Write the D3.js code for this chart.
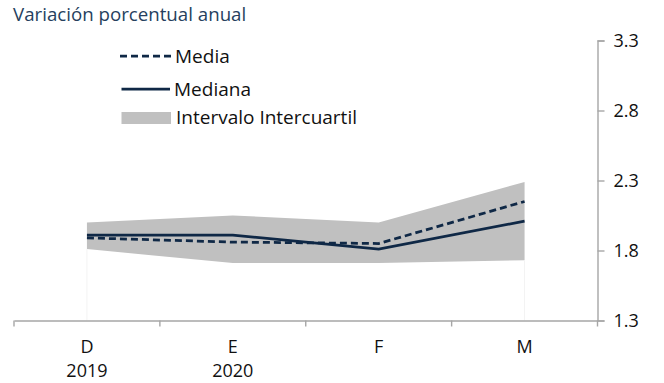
<!DOCTYPE html>
<html>
<head>
<meta charset="utf-8">
<script src="https://cdn.jsdelivr.net/npm/d3@7"></script>
<style>
  html, body { margin: 0; padding: 0; background: #fff; }
  svg { display: block; }
  text { font-family: "Open Sans", Lato, sans-serif; }
</style>
</head>
<body>
<svg id="chart" width="664" height="383"></svg>
<script>
const categories = ["D", "E", "F", "M"];
const years = ["2019", "2020", "", ""];
const media = [1.89, 1.86, 1.85, 2.15];
const mediana = [1.91, 1.91, 1.81, 2.01];
const q1 = [1.81, 1.71, 1.71, 1.73];
const q3 = [2.00, 2.05, 2.00, 2.29];
const yTicks = [1.3, 1.8, 2.3, 2.8, 3.3];

(function () {
const svg = d3.select("#chart");
const mLeft = 14, mRight = 597.5, mTop = 40.5, mBottom = 320.5;
const navy = "#0f2846";
const axisGray = "#a6a6a6";

const x = d3.scaleBand().domain(categories).range([mLeft, mRight]).paddingInner(0).paddingOuter(0);
const y = d3.scaleLinear().domain([1.3, 3.3]).range([mBottom, mTop]);
const cx = c => x(c) + x.bandwidth() / 2;

const data = categories.map((c, i) => ({ c, media: media[i], mediana: mediana[i], q1: q1[i], q3: q3[i] }));

// Interquartile band
const area = d3.area().x(d => cx(d.c)).y0(d => y(d.q1)).y1(d => y(d.q3));
svg.append("path").datum(data).attr("d", area).attr("fill", "#c0c0c0");

// faint drop lines at first and last
[data[0], data[data.length - 1]].forEach(d => {
  svg.append("line").attr("x1", cx(d.c)).attr("x2", cx(d.c))
    .attr("y1", y(d.q1)).attr("y2", mBottom)
    .attr("stroke", "#f3f3f3").attr("stroke-width", 1);
});

// Lines
const lineMed = d3.line().x(d => cx(d.c)).y(d => y(d.mediana));
const lineMean = d3.line().x(d => cx(d.c)).y(d => y(d.media));
svg.append("path").datum(data).attr("d", lineMed).attr("fill", "none")
  .attr("stroke", navy).attr("stroke-width", 2.75);
svg.append("path").datum(data).attr("d", lineMean).attr("fill", "none")
  .attr("stroke", navy).attr("stroke-width", 2.75).attr("stroke-dasharray", "7,4");

// X axis
const xAxis = d3.axisBottom(x).tickSize(0).tickFormat(() => "");
const gx = svg.append("g").attr("transform", `translate(0,${mBottom})`).call(xAxis);
gx.select(".domain").attr("stroke", axisGray).attr("stroke-width", 1.4);
const tickPos = categories.map(c => x(c)).concat([mRight]);
gx.selectAll("line.sep").data(tickPos).enter().append("line").attr("class", "sep")
  .attr("x1", d => d).attr("x2", d => d).attr("y1", 0).attr("y2", 6)
  .attr("stroke", axisGray).attr("stroke-width", 1.4);

svg.selectAll("text.cat").data(categories).enter().append("text").attr("class", "cat")
  .attr("x", d => cx(d)).attr("y", 353).attr("text-anchor", "middle")
  .attr("font-size", 18).attr("fill", "#111").text(d => d);
svg.selectAll("text.yr").data(categories).enter().append("text").attr("class", "yr")
  .attr("x", d => cx(d)).attr("y", 377).attr("text-anchor", "middle")
  .attr("font-size", 18).attr("fill", "#111").text((d, i) => years[i]);

// Y axis (right)
const yAxis = d3.axisRight(y).tickValues(yTicks).tickSize(7).tickPadding(9).tickFormat(d3.format(".1f"));
const gy = svg.append("g").attr("transform", `translate(${mRight},0)`).call(yAxis);
gy.select(".domain").attr("stroke", axisGray).attr("stroke-width", 1.4);
gy.selectAll(".tick line").attr("stroke", axisGray).attr("stroke-width", 1.4);
gy.selectAll(".tick text").attr("font-size", 18).attr("fill", "#111").attr("font-family", "'Open Sans', sans-serif");

// Title
svg.append("text").attr("x", 13).attr("y", 21).attr("font-size", 18.7)
  .attr("fill", "#263f5e").text("Variación porcentual anual");

// Legend
const lg = svg.append("g");
lg.append("line").attr("x1", 120).attr("x2", 172).attr("y1", 56).attr("y2", 56)
  .attr("stroke", navy).attr("stroke-width", 2.75).attr("stroke-dasharray", "7,4");
lg.append("text").attr("x", 175).attr("y", 63).attr("font-size", 19).attr("fill", "#111").text("Media");
lg.append("line").attr("x1", 121.5).attr("x2", 170).attr("y1", 89).attr("y2", 89)
  .attr("stroke", navy).attr("stroke-width", 2.75);
lg.append("text").attr("x", 174).attr("y", 95.5).attr("font-size", 19).attr("fill", "#111").text("Mediana");
lg.append("rect").attr("x", 121.5).attr("y", 112).attr("width", 49.5).attr("height", 12).attr("fill", "#c0c0c0");
lg.append("text").attr("x", 176).attr("y", 124).attr("font-size", 19).attr("fill", "#111").text("Intervalo Intercuartil");
})();
</script>
</body>
</html>
